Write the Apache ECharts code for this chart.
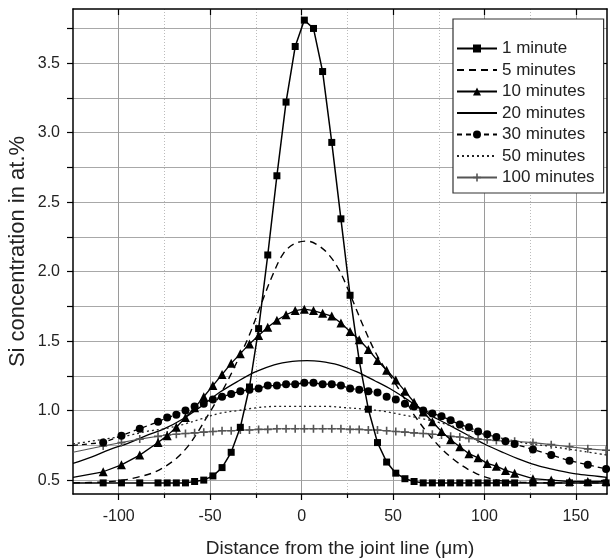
<!DOCTYPE html>
<html><head><meta charset="utf-8">
<script src="https://cdn.jsdelivr.net/npm/echarts@6/dist/echarts.min.js"></script>
<style>html,body{margin:0;padding:0;background:#fff}#c{width:610px;height:560px}</style>
</head><body><div id="c"></div>
<script>
// ---- tick values ----
const xMajor = [-100, -50, 0, 50, 100, 150];
const xMinor = [-75, -25, 25, 75, 125];
const yTicks = [0.5, 0.75, 1.0, 1.25, 1.5, 1.75, 2.0, 2.25, 2.5, 2.75, 3.0, 3.25, 3.5, 3.75];
const yLabels = [0.5, 1.0, 1.5, 2.0, 2.5, 3.0, 3.5];

// ---- series names ----
const names = ['1 minute', '5 minutes', '10 minutes', '20 minutes', '30 minutes', '50 minutes', '100 minutes'];

// ---- positions of measured (marked) points; first entry is the left frame edge ----
const xMarked = [-125, -108.5, -98.5, -88.5,
  -78.5, -73.5, -68.5, -63.5, -58.5, -53.5, -48.5, -43.5, -38.5, -33.5, -28.5, -23.5, -18.5, -13.5, -8.5, -3.5,
  1.5, 6.5, 11.5, 16.5, 21.5, 26.5, 31.5, 36.5, 41.5, 46.5, 51.5, 56.5, 61.5, 66.5, 71.5, 76.5, 81.5, 86.5, 91.5, 96.5, 101.5, 106.5, 111.5, 116.5,
  126.5, 136.5, 146.5, 156.5, 166.5];

const min1 = [0.48, 0.48, 0.48, 0.48,
  0.48, 0.48, 0.48, 0.48, 0.49, 0.50, 0.53, 0.59, 0.70, 0.88, 1.17, 1.59, 2.12, 2.69, 3.22, 3.62,
  3.81, 3.75, 3.44, 2.93, 2.38, 1.83, 1.36, 1.01, 0.77, 0.63, 0.55, 0.51, 0.49, 0.48, 0.48, 0.48, 0.48, 0.48, 0.48, 0.48, 0.48, 0.48, 0.48, 0.48,
  0.48, 0.48, 0.48, 0.48, 0.48];

const min10 = [0.52, 0.56, 0.61, 0.68,
  0.77, 0.82, 0.88, 0.95, 1.02, 1.10, 1.18, 1.26, 1.34, 1.41, 1.48, 1.54, 1.60, 1.65, 1.69, 1.72,
  1.73, 1.72, 1.70, 1.68, 1.63, 1.57, 1.51, 1.44, 1.36, 1.29, 1.22, 1.14, 1.06, 0.99, 0.92, 0.85, 0.79, 0.74, 0.69, 0.66, 0.62, 0.60, 0.57, 0.55,
  0.51, 0.50, 0.49, 0.49, 0.49];

const min30 = [0.75, 0.77, 0.82, 0.87,
  0.92, 0.95, 0.97, 1.00, 1.03, 1.05, 1.08, 1.10, 1.12, 1.14, 1.15, 1.16, 1.18, 1.18, 1.19, 1.19,
  1.20, 1.20, 1.19, 1.19, 1.18, 1.16, 1.15, 1.14, 1.13, 1.10, 1.08, 1.05, 1.03, 1.00, 0.98, 0.96, 0.93, 0.90, 0.88, 0.85, 0.83, 0.81, 0.78, 0.76,
  0.72, 0.68, 0.64, 0.61, 0.58];

const min100 = [0.70, 0.745, 0.77, 0.795,
  0.815, 0.825, 0.83, 0.835, 0.84, 0.845, 0.85, 0.855, 0.855, 0.86, 0.86, 0.865, 0.865, 0.87, 0.87, 0.87,
  0.87, 0.87, 0.87, 0.87, 0.87, 0.865, 0.865, 0.86, 0.86, 0.855, 0.85, 0.845, 0.84, 0.835, 0.83, 0.825, 0.815, 0.81, 0.80, 0.795, 0.79, 0.785, 0.78, 0.78,
  0.77, 0.755, 0.74, 0.725, 0.715];

// ---- fitted-curve series (no markers) ----
const x5 = [-125, -110, -100, -90, -80, -70, -63, -57, -52, -46, -41, -35, -29, -22, -16, -10, -4, 3, 9, 15, 21, 28, 34, 42, 52, 57, 62, 72, 83, 95, 107, 120, 140, 167];
const min5 = [0.48, 0.485, 0.495, 0.52, 0.56, 0.64, 0.73, 0.84, 0.95, 1.08, 1.20, 1.36, 1.53, 1.77, 1.97, 2.13, 2.20, 2.22, 2.19, 2.12, 2.00, 1.79, 1.60, 1.38, 1.18, 1.07, 0.96, 0.79, 0.65, 0.55, 0.50, 0.485, 0.48, 0.48];

const x20 = [-125, -115, -105, -95, -85, -75, -65, -55, -45, -35, -25, -15, -5, 3, 10, 20, 30, 40, 50, 60, 70, 80, 90, 100, 110, 120, 130, 140, 150, 160, 167];
const min20 = [0.62, 0.665, 0.72, 0.765, 0.82, 0.87, 0.94, 1.03, 1.13, 1.21, 1.28, 1.33, 1.355, 1.36, 1.355, 1.33, 1.28, 1.215, 1.145, 1.06, 0.97, 0.90, 0.83, 0.76, 0.70, 0.645, 0.60, 0.57, 0.545, 0.53, 0.52];

const x50 = [-125, -115, -105, -95, -85, -75, -65, -55, -45, -35, -25, -15, -5, 5, 15, 25, 35, 45, 55, 65, 75, 85, 95, 105, 115, 125, 135, 145, 155, 167];
const min50 = [0.76, 0.78, 0.80, 0.82, 0.85, 0.87, 0.90, 0.94, 0.98, 1.00, 1.02, 1.03, 1.03, 1.03, 1.03, 1.02, 1.01, 0.995, 0.97, 0.945, 0.915, 0.88, 0.845, 0.815, 0.785, 0.76, 0.745, 0.725, 0.705, 0.68];

const FONT = "'Liberation Sans', Arial, Helvetica, sans-serif";
const PLUS = 'path://M4,0H6V4H10V6H6V10H4V6H0V4H4Z';
const CLEAR = 'rgba(0,0,0,0)';

function marked(xs, ys) {
  return xs.map((x, i) => i === 0 ? { value: [x, ys[i]], symbol: 'none' } : [x, ys[i]]);
}
function plain(xs, ys) { return xs.map((x, i) => [x, ys[i]]); }

const chart = echarts.init(document.getElementById('c'), null, { renderer: 'canvas' });
chart.setOption({
  animation: false,
  backgroundColor: '#fff',
  textStyle: { fontFamily: FONT },
  grid: { left: 73, top: 9, right: 3, bottom: 66, containLabel: false, outerBoundsMode: 'none' },
  legend: {
    orient: 'vertical', left: 453, top: 19,
    padding: [21, 9, 7, 3],
    itemWidth: 40, itemHeight: 10, itemGap: 4.5,
    backgroundColor: '#fff', borderColor: '#333', borderWidth: 1.2,
    textStyle: { fontSize: 17, color: '#222', fontFamily: FONT },
    selectedMode: false,
    data: names
  },
  xAxis: [
    {
      type: 'value', min: -125, max: 167, position: 'bottom',
      axisLine: { show: true, onZero: false, lineStyle: { color: '#000', width: 1.5 } },
      axisTick: { show: true, inside: false, length: 6, customValues: xMajor, lineStyle: { color: '#000', width: 1.2 } },
      axisLabel: { customValues: xMajor, fontSize: 16, color: '#222', margin: 15, fontFamily: FONT },
      splitLine: { show: true, lineStyle: { color: '#9a9a9a', width: 1 } },
      name: 'Distance from the joint line (\u03bcm)', nameLocation: 'middle', nameGap: 45, nameMoveOverlap: false,
      nameTextStyle: { fontSize: 19, color: '#222', fontFamily: FONT }
    },
    {
      type: 'value', min: -125, max: 167, position: 'bottom',
      axisLine: { show: false },
      axisTick: { show: true, inside: false, length: 4, customValues: xMinor, lineStyle: { color: '#000', width: 1.2 } },
      axisLabel: { show: false },
      splitLine: { show: true, lineStyle: { color: '#bbb', width: 1, type: [1, 2] } }
    },
    {
      type: 'value', min: -125, max: 167, position: 'top',
      axisLine: { show: true, onZero: false, lineStyle: { color: '#000', width: 1.5 } },
      axisTick: { show: true, inside: true, length: 6, customValues: xMajor, lineStyle: { color: '#000', width: 1.2 } },
      axisLabel: { show: false },
      splitLine: { show: false }
    }
  ],
  yAxis: [
    {
      type: 'value', min: 0.4, max: 3.89, position: 'left',
      axisLine: { show: true, onZero: false, lineStyle: { color: '#000', width: 1.5 } },
      axisTick: { show: true, inside: false, length: 6, customValues: yTicks, lineStyle: { color: '#000', width: 1.2 } },
      axisLabel: { customValues: yLabels, formatter: v => Number(v).toFixed(1), fontSize: 16, color: '#222', margin: 13, fontFamily: FONT },
      splitLine: { show: true, lineStyle: { color: '#a8a8a8', width: 1 } },
      name: 'Si concentration in at.%', nameLocation: 'middle', nameGap: 44, nameMoveOverlap: false,
      nameTextStyle: { fontSize: 22, color: '#222', fontFamily: FONT }
    },
    {
      type: 'value', min: 0.4, max: 3.89, position: 'right',
      axisLine: { show: true, onZero: false, lineStyle: { color: '#000', width: 1.5 } },
      axisTick: { show: true, inside: true, length: 6, customValues: yLabels, lineStyle: { color: '#000', width: 1.2 } },
      axisLabel: { show: false },
      splitLine: { show: false }
    }
  ],
  series: [
    {
      name: names[0], type: 'line', data: marked(xMarked, min1),
      symbol: 'rect', symbolSize: 7, color: '#000',
      lineStyle: { color: '#000', width: 1.5 }, itemStyle: { color: '#000' }, z: 7
    },
    {
      name: names[1], type: 'line', data: plain(x5, min5), smooth: 0.35,
      symbol: 'circle', showSymbol: false, color: '#000',
      lineStyle: { color: '#000', width: 1.4, type: [7, 5] }, itemStyle: { color: CLEAR, borderColor: CLEAR }, z: 3
    },
    {
      name: names[2], type: 'line', data: marked(xMarked, min10),
      symbol: 'triangle', symbolSize: 9, color: '#000',
      lineStyle: { color: '#000', width: 1.3 }, itemStyle: { color: '#000' }, z: 6
    },
    {
      name: names[3], type: 'line', data: plain(x20, min20), smooth: 0.35,
      symbol: 'circle', showSymbol: false, color: '#000',
      lineStyle: { color: '#000', width: 1.3 }, itemStyle: { color: CLEAR, borderColor: CLEAR }, z: 3
    },
    {
      name: names[4], type: 'line', data: marked(xMarked, min30),
      symbol: 'circle', symbolSize: 8, color: '#000',
      lineStyle: { color: '#000', width: 1.3, type: [5, 4] }, itemStyle: { color: '#000' }, z: 5
    },
    {
      name: names[5], type: 'line', data: plain(x50, min50), smooth: 0.35,
      symbol: 'circle', showSymbol: false, color: '#222',
      lineStyle: { color: '#222', width: 1.3, type: [2, 3] }, itemStyle: { color: CLEAR, borderColor: CLEAR }, z: 3
    },
    {
      name: names[6], type: 'line', data: marked(xMarked, min100),
      symbol: PLUS, symbolSize: 8, color: '#555',
      lineStyle: { color: '#555', width: 1.1 }, itemStyle: { color: '#555' }, z: 4
    }
  ]
});
</script></body></html>
